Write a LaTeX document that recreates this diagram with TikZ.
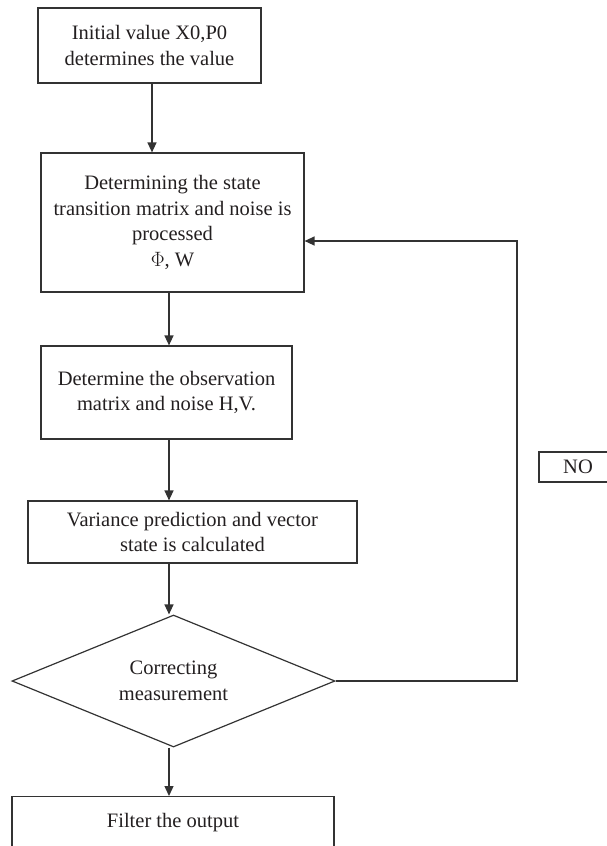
\documentclass[tikz,border=0pt]{standalone}
\usepackage{fontspec}
\setmainfont{Liberation Serif}
\usetikzlibrary{arrows.meta,shapes.geometric}
\definecolor{ink}{HTML}{231F20}
\definecolor{edge}{HTML}{333333}
\tikzset{
  boxnode/.style={draw=edge, line width=1.2pt, rectangle, inner sep=0pt, align=center, text=ink,
    font=\fontsize{20.5}{25.5}\selectfont},
  decnode/.style={draw=edge, line width=1.2pt, diamond, aspect=2.45, inner sep=0pt, align=center, text=ink,
    font=\fontsize{20.5}{25.5}\selectfont},
  flow/.style={draw=edge, line width=1.3pt, -{Triangle[length=10pt,width=9pt]}}
}
\begin{document}
\begin{tikzpicture}[x=1pt,y=-1pt]
\useasboundingbox (0,0) rectangle (607,846);
\node[boxnode, minimum width=223pt, minimum height=75pt] (b1) at (149.5,45.5) {Initial value X0,P0\\determines the value};
\node[boxnode, minimum width=263pt, minimum height=139pt] (b2) at (172.5,222.5) {Determining the state\\transition matrix and noise is\\processed\\$\Phi$, W};
\node[boxnode, minimum width=251pt, minimum height=93pt] (b3) at (166.5,392.5) {Determine the observation\\matrix and noise H,V.};
\node[boxnode, minimum width=329pt, minimum height=62pt] (b4) at (192.5,532) {Variance prediction and vector\\state is calculated};
\node[decnode, minimum width=323pt, minimum height=132pt] (d) at (173.5,681) {Correcting\\measurement};
\node[boxnode, anchor=north, minimum width=322pt, text height=31pt, text depth=30pt] (b5) at (173,796) {Filter the output};
\node[boxnode, minimum width=78pt, minimum height=30pt] (no) at (578,467) {NO};
\coordinate (ax) at (169,0);
\coordinate (a1) at (152,0);
\coordinate (fb) at (517,241);
\draw[flow] (b1.south -| a1) -- (b2.north -| a1);
\draw[flow] (b2.south -| ax) -- (b3.north -| ax);
\draw[flow] (b3.south -| ax) -- (b4.north -| ax);
\draw[flow] (b4.south -| ax) -- (d.north -| ax);
\draw[flow] (d.south -| ax) -- (b5.north -| ax);
\draw[flow] (d.east) -| (fb) -- (b2.east |- fb);
\end{tikzpicture}
\end{document}
